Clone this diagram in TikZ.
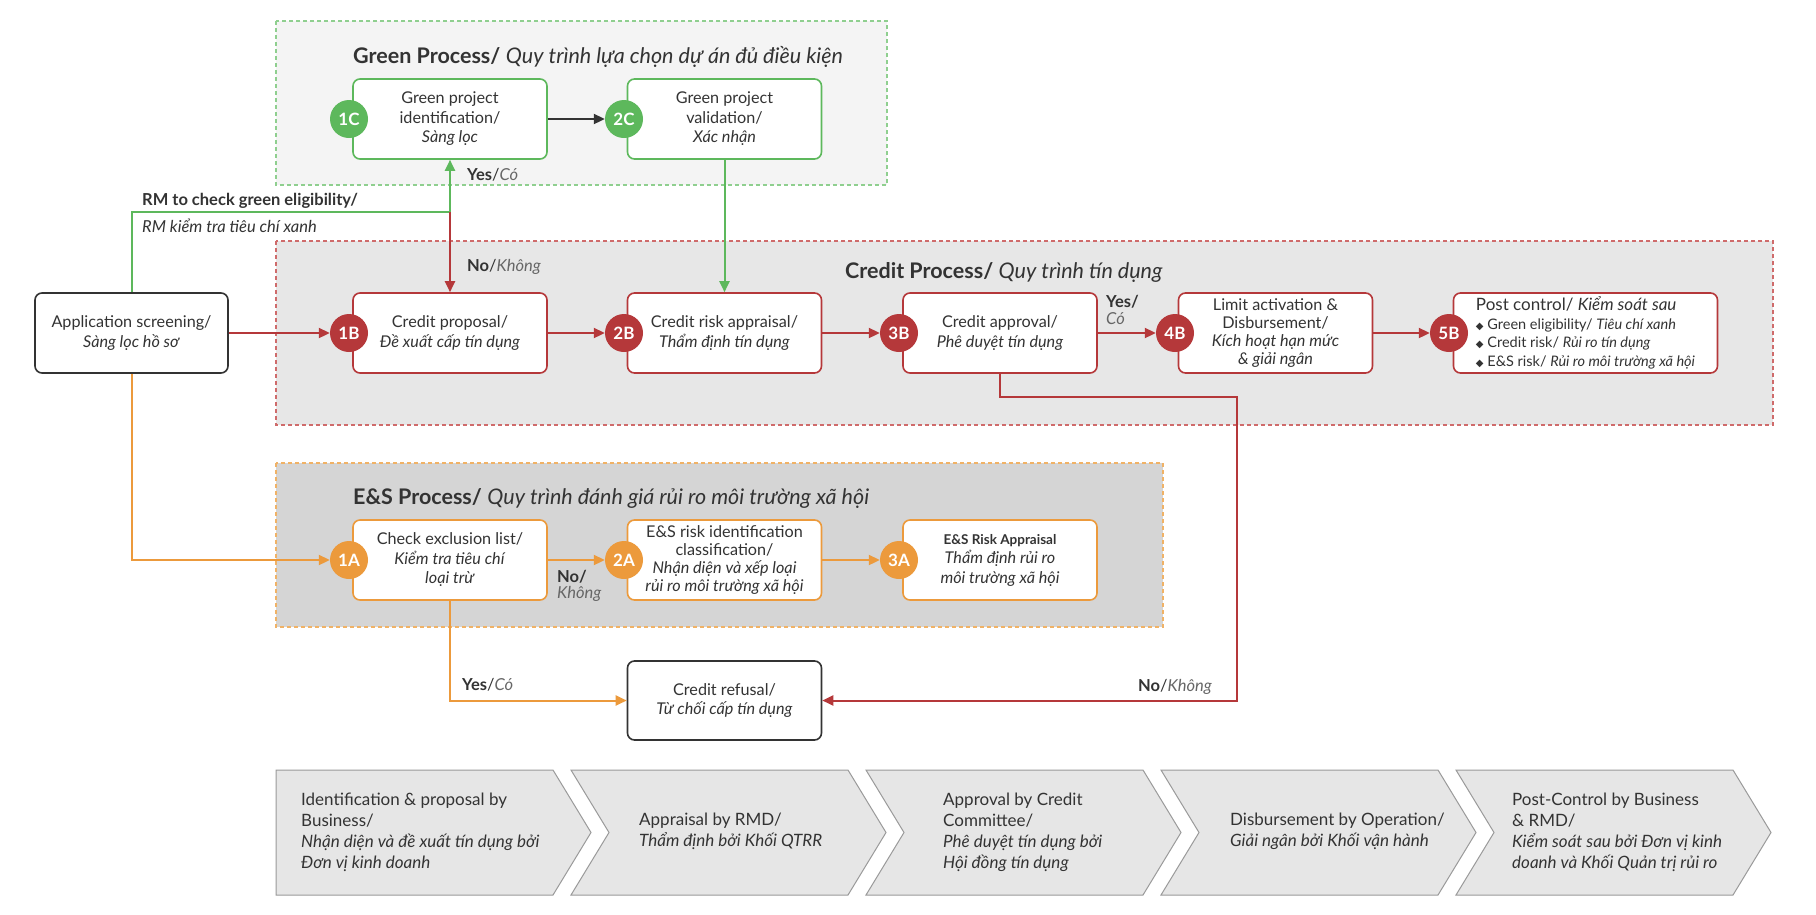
\documentclass[tikz,border=0pt]{standalone}
\usepackage{fontspec}
\setmainfont{Lato}
\newfontfamily\symfont{DejaVu Sans}
\usetikzlibrary{arrows.meta,calc}
\definecolor{gC}{HTML}{5DB85C}
\definecolor{rC}{HTML}{B5383A}
\definecolor{oC}{HTML}{EC9A3C}
\definecolor{tc}{HTML}{333333}
\definecolor{lc}{HTML}{666666}
\definecolor{gBg}{HTML}{F4F4F4}
\definecolor{rBg}{HTML}{E7E7E7}
\definecolor{oBg}{HTML}{D5D5D5}
\definecolor{gDash}{HTML}{8FCF8F}
\definecolor{rDash}{HTML}{CF6B6B}
\definecolor{oDash}{HTML}{F0B266}
\definecolor{chevfill}{HTML}{E6E6E6}
\definecolor{chevline}{HTML}{9A9A9A}
\tikzset{
 box/.style={draw=#1, fill=white, rounded corners=7pt, line width=1.6pt, minimum width=194pt, minimum height=80pt, align=center, inner sep=2pt, font=\fontsize{16.2}{19.5}\selectfont, text=tc},
 num/.style={circle, fill=#1, minimum size=38pt, inner sep=0pt, text=white, font=\bfseries\fontsize{17}{17}\selectfont},
 ln/.style={draw=#1, line width=2pt},
 arr/.style={-{Triangle[length=11pt,width=10pt]}},
 lbl/.style={anchor=west, inner sep=0pt, text=tc, font=\fontsize{16.5}{19}\selectfont},
 ttl/.style={anchor=west, inner sep=0pt, text=tc, font=\fontsize{21.5}{25}\selectfont},
 cont/.style={line width=1.5pt, dash pattern=on 4pt off 3pt},
 chev/.style={draw=chevline, fill=chevfill, line width=1pt},
 chevtxt/.style={anchor=west, align=left, inner sep=0pt, text=tc, font=\fontsize{17}{21}\selectfont},
}
\newcommand{\lit}[1]{{\color{lc}\itshape #1}}
\newcommand{\dia}{{\symfont\fontsize{10}{10}\selectfont ◆}}
\begin{document}
\begin{tikzpicture}[x=1pt,y=-1pt]
\useasboundingbox[fill=white] (0,0) rectangle (1816,914);
% containers
\draw[cont, draw=gDash, fill=gBg] (276,21) rectangle (887,185);
\draw[cont, draw=rDash, fill=rBg] (276,241) rectangle (1773,425);
\draw[cont, draw=oDash, fill=oBg] (276,463) rectangle (1163,627);
% titles
\node[ttl] (tG) at (353,57) {\textbf{Green Process/} \textit{Quy trình lựa chọn dự án đủ điều kiện}};
\node[ttl] (tB) at (845,273) {\textbf{Credit Process/} \textit{Quy trình tín dụng}};
\node[ttl] (tA) at (353,499) {\textbf{E\&S Process/} \textit{Quy trình đánh giá rủi ro môi trường xã hội}};
% boxes
\node[box=gC] (c1) at (450,119) {Green project\\identification/\\\textit{Sàng lọc}};
\node[box=gC] (c2) at (724.5,119) {Green project\\validation/\\\textit{Xác nhận}};
\node[box=tc, minimum width=193pt] (app) at (131.5,333) {Application screening/\\\textit{Sàng lọc hồ sơ}};
\node[box=rC] (b1) at (450,333) {Credit proposal/\\\textit{Đề xuất cấp tín dụng}};
\node[box=rC] (b2) at (724.5,333) {Credit risk appraisal/\\\textit{Thẩm định tín dụng}};
\node[box=rC] (b3) at (1000,333) {Credit approval/\\\textit{Phê duyệt tín dụng}};
\node[box=rC, font=\fontsize{16.2}{18.2}\selectfont] (b4) at (1275.5,333) {Limit activation \&\\Disbursement/\\\textit{Kích hoạt hạn mức}\\\textit{\& giải ngân}};
\node[box=rC, minimum width=264pt, align=left] (b5) at (1585.5,333) {{\fontsize{17}{18}\selectfont Post control/ \textit{Kiểm soát sau}}\\[-1pt]
{\fontsize{14.5}{17.5}\selectfont\dia\ Green eligibility/ \textit{Tiêu chí xanh}}\\[-1pt]
{\fontsize{14.5}{17.5}\selectfont\dia\ Credit risk/ \textit{Rủi ro tín dụng}}\\[-1pt]
{\fontsize{14.5}{17.5}\selectfont\dia\ E\&S risk/ \textit{Rủi ro môi trường xã hội}}};
\node[box=oC] (a1) at (450,560) {Check exclusion list/\\\textit{Kiểm tra tiêu chí}\\\textit{loại trừ}};
\node[box=oC, font=\fontsize{16.2}{18.2}\selectfont] (a2) at (724.5,560) {E\&S risk identification\\classification/\\\textit{Nhận diện và xếp loại}\\\textit{rủi ro môi trường xã hội}};
\node[box=oC] (a3) at (1000,560) {{\bfseries\fontsize{13.5}{19.5}\selectfont E\&S Risk Appraisal}\\\textit{Thẩm định rủi ro}\\\textit{môi trường xã hội}};
\node[box=tc, minimum height=79pt] (rf) at (724.5,700.5) {Credit refusal/\\\textit{Từ chối cấp tín dụng}};
% number circles
\node[num=gC] (n1c) at (349,119) {1C};
\node[num=gC] (n2c) at (624,119) {2C};
\node[num=rC] (n1b) at (349,333) {1B};
\node[num=rC] (n2b) at (624,333) {2B};
\node[num=rC] (n3b) at (899,333) {3B};
\node[num=rC] (n4b) at (1175,333) {4B};
\node[num=rC] (n5b) at (1449,333) {5B};
\node[num=oC] (n1a) at (349,560) {1A};
\node[num=oC] (n2a) at (624,560) {2A};
\node[num=oC] (n3a) at (899,560) {3A};
% connectors
\coordinate (gturn) at (450,212);
\coordinate (rturn) at (1237,397);
\draw[ln=gC] (app.north) |- (gturn);
\draw[ln=gC, arr] (gturn) -- (c1.south);
\draw[ln=rC, arr] (gturn) -- (b1.north);
\draw[ln=tc, arr] (c1.east) -- (n2c.west);
\draw[ln=gC, arr] (c2.south) -- (b2.north);
\draw[ln=rC, arr] (app.east) -- (n1b.west);
\draw[ln=rC, arr] (b1.east) -- (n2b.west);
\draw[ln=rC, arr] (b2.east) -- (n3b.west);
\draw[ln=rC, arr] (b3.east) -- (n4b.west);
\draw[ln=rC, arr] (b4.east) -- (n5b.west);
\draw[ln=rC, arr] (b3.south) |- (rturn) |- (rf.east);
\draw[ln=oC, arr] (app.south) |- (n1a.west);
\draw[ln=oC, arr] (a1.east) -- (n2a.west);
\draw[ln=oC, arr] (a2.east) -- (n3a.west);
\draw[ln=oC, arr] (a1.south) |- (rf.west);
% labels
\node[lbl] (lrm1) at (142,201) {\textbf{RM to check green eligibility/}};
\node[lbl] (lrm2) at (142,226) {\textit{RM kiểm tra tiêu chí xanh}};
\node[lbl] (lyes1) at (467,175) {\textbf{Yes}/\lit{Có}};
\node[lbl] (lno1) at (467,267) {\textbf{No}/\lit{Không}};
\node[lbl] (lyes2) at (1106,302) {\textbf{Yes/}};
\node[lbl] (lyes2b) at (1106,319) {\lit{Có}};
\node[lbl] (lno2) at (557,577) {\textbf{No/}};
\node[lbl] (lno2b) at (557,594) {\lit{Không}};
\node[lbl] (lyes3) at (462,685) {\textbf{Yes}/\lit{Có}};
\node[lbl] (lno3) at (1138,687) {\textbf{No}/\lit{Không}};
% chevrons
\draw[chev] (276,770) -- (553,770) -- (591,832.5) -- (553,895) -- (276,895) -- cycle;
\draw[chev] (571,770) -- (848,770) -- (886,832.5) -- (848,895) -- (571,895) -- (609,832.5) -- cycle;
\draw[chev] (866,770) -- (1143,770) -- (1181,832.5) -- (1143,895) -- (866,895) -- (904,832.5) -- cycle;
\draw[chev] (1161,770) -- (1438,770) -- (1476,832.5) -- (1438,895) -- (1161,895) -- (1199,832.5) -- cycle;
\draw[chev] (1456,770) -- (1733,770) -- (1771,832.5) -- (1733,895) -- (1456,895) -- (1494,832.5) -- cycle;
\node[chevtxt] (s1) at (301,832) {Identification \& proposal by\\Business/\\\textit{Nhận diện và đề xuất tín dụng bởi}\\\textit{Đơn vị kinh doanh}};
\node[chevtxt] (s2) at (639,831) {Appraisal by RMD/\\\textit{Thẩm định bởi Khối QTRR}};
\node[chevtxt] (s3) at (943,832) {Approval by Credit\\Committee/\\\textit{Phê duyệt tín dụng bởi}\\\textit{Hội đồng tín dụng}};
\node[chevtxt] (s4) at (1230,831) {Disbursement by Operation/\\\textit{Giải ngân bởi Khối vận hành}};
\node[chevtxt] (s5) at (1512,832) {Post-Control by Business\\\& RMD/\\\textit{Kiểm soát sau bởi Đơn vị kinh}\\\textit{doanh và Khối Quản trị rủi ro}};
\end{tikzpicture}
\end{document}
